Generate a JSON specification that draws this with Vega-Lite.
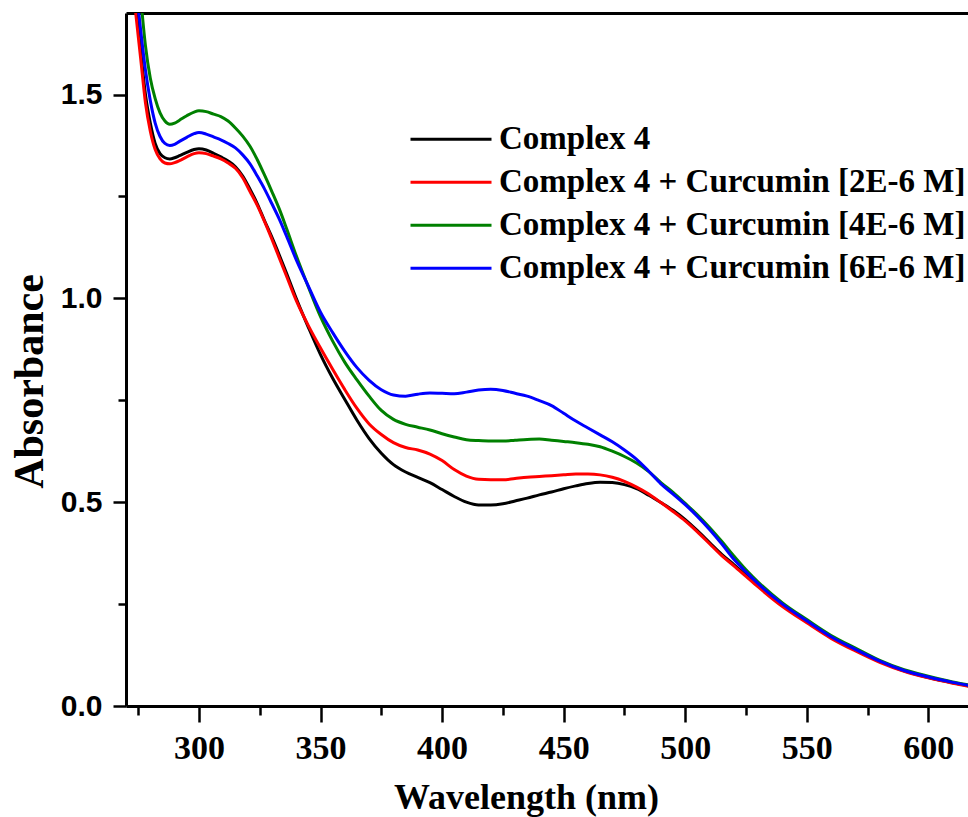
{
  "$schema": "https://vega.github.io/schema/vega-lite/v6.json",
  "width": 842,
  "height": 693,
  "autosize": {"type": "none"},
  "padding": {"left": 126, "top": 13, "right": 0, "bottom": 111},
  "background": "white",
  "config": {
    "view": {"stroke": null},
    "axis": {"grid": false, "domainColor": "black", "tickColor": "black", "domainWidth": 3, "tickWidth": 2.5, "labelColor": "black", "titleColor": "black"}
  },
  "data": {"values": [
    {"wl":272,"c0":1.84,"c2":1.82,"c4":1.96,"c6":1.88},
    {"wl":274,"c0":1.72,"c2":1.70,"c4":1.86,"c6":1.77},
    {"wl":276,"c0":1.61,"c2":1.59,"c4":1.74,"c6":1.66},
    {"wl":278,"c0":1.50,"c2":1.48,"c4":1.62,"c6":1.56},
    {"wl":280,"c0":1.43,"c2":1.41,"c4":1.54,"c6":1.485},
    {"wl":282,"c0":1.38,"c2":1.365,"c4":1.49,"c6":1.43},
    {"wl":284,"c0":1.355,"c2":1.342,"c4":1.455,"c6":1.397},
    {"wl":286,"c0":1.345,"c2":1.332,"c4":1.435,"c6":1.38},
    {"wl":288,"c0":1.342,"c2":1.330,"c4":1.427,"c6":1.375},
    {"wl":290,"c0":1.345,"c2":1.333,"c4":1.430,"c6":1.378},
    {"wl":292,"c0":1.350,"c2":1.338,"c4":1.437,"c6":1.385},
    {"wl":295,"c0":1.358,"c2":1.347,"c4":1.448,"c6":1.395},
    {"wl":298,"c0":1.365,"c2":1.355,"c4":1.457,"c6":1.404},
    {"wl":300,"c0":1.367,"c2":1.357,"c4":1.460,"c6":1.407},
    {"wl":303,"c0":1.364,"c2":1.355,"c4":1.458,"c6":1.403},
    {"wl":306,"c0":1.356,"c2":1.349,"c4":1.452,"c6":1.396},
    {"wl":309,"c0":1.347,"c2":1.342,"c4":1.446,"c6":1.389},
    {"wl":312,"c0":1.337,"c2":1.332,"c4":1.435,"c6":1.380},
    {"wl":315,"c0":1.323,"c2":1.319,"c4":1.418,"c6":1.369},
    {"wl":318,"c0":1.300,"c2":1.296,"c4":1.398,"c6":1.352},
    {"wl":321,"c0":1.268,"c2":1.262,"c4":1.373,"c6":1.330},
    {"wl":324,"c0":1.232,"c2":1.228,"c4":1.340,"c6":1.300},
    {"wl":327,"c0":1.190,"c2":1.188,"c4":1.302,"c6":1.268},
    {"wl":330,"c0":1.150,"c2":1.145,"c4":1.262,"c6":1.232},
    {"wl":333,"c0":1.107,"c2":1.100,"c4":1.220,"c6":1.195},
    {"wl":336,"c0":1.062,"c2":1.055,"c4":1.172,"c6":1.153},
    {"wl":340,"c0":1.000,"c2":0.995,"c4":1.105,"c6":1.095},
    {"wl":345,"c0":0.929,"c2":0.933,"c4":1.028,"c6":1.030},
    {"wl":350,"c0":0.862,"c2":0.878,"c4":0.955,"c6":0.966},
    {"wl":355,"c0":0.804,"c2":0.826,"c4":0.895,"c6":0.916},
    {"wl":360,"c0":0.752,"c2":0.776,"c4":0.843,"c6":0.870},
    {"wl":365,"c0":0.701,"c2":0.730,"c4":0.800,"c6":0.830},
    {"wl":370,"c0":0.656,"c2":0.692,"c4":0.760,"c6":0.799},
    {"wl":375,"c0":0.620,"c2":0.666,"c4":0.725,"c6":0.776},
    {"wl":380,"c0":0.592,"c2":0.646,"c4":0.703,"c6":0.763},
    {"wl":385,"c0":0.574,"c2":0.634,"c4":0.691,"c6":0.760},
    {"wl":390,"c0":0.561,"c2":0.628,"c4":0.684,"c6":0.765},
    {"wl":395,"c0":0.548,"c2":0.618,"c4":0.677,"c6":0.768},
    {"wl":400,"c0":0.531,"c2":0.602,"c4":0.668,"c6":0.767},
    {"wl":405,"c0":0.514,"c2":0.580,"c4":0.660,"c6":0.766},
    {"wl":410,"c0":0.500,"c2":0.564,"c4":0.653,"c6":0.770},
    {"wl":415,"c0":0.493,"c2":0.556,"c4":0.651,"c6":0.775},
    {"wl":420,"c0":0.493,"c2":0.555,"c4":0.650,"c6":0.777},
    {"wl":425,"c0":0.496,"c2":0.555,"c4":0.650,"c6":0.774},
    {"wl":430,"c0":0.503,"c2":0.558,"c4":0.652,"c6":0.767},
    {"wl":435,"c0":0.510,"c2":0.561,"c4":0.654,"c6":0.760},
    {"wl":440,"c0":0.518,"c2":0.563,"c4":0.655,"c6":0.749},
    {"wl":445,"c0":0.525,"c2":0.565,"c4":0.652,"c6":0.737},
    {"wl":450,"c0":0.533,"c2":0.567,"c4":0.649,"c6":0.718},
    {"wl":455,"c0":0.540,"c2":0.569,"c4":0.646,"c6":0.699},
    {"wl":460,"c0":0.546,"c2":0.569,"c4":0.642,"c6":0.682},
    {"wl":465,"c0":0.549,"c2":0.567,"c4":0.636,"c6":0.665},
    {"wl":470,"c0":0.548,"c2":0.561,"c4":0.625,"c6":0.648},
    {"wl":475,"c0":0.543,"c2":0.551,"c4":0.612,"c6":0.628},
    {"wl":480,"c0":0.533,"c2":0.537,"c4":0.596,"c6":0.605},
    {"wl":485,"c0":0.517,"c2":0.520,"c4":0.575,"c6":0.576},
    {"wl":490,"c0":0.499,"c2":0.499,"c4":0.548,"c6":0.545},
    {"wl":495,"c0":0.480,"c2":0.477,"c4":0.524,"c6":0.520},
    {"wl":500,"c0":0.457,"c2":0.454,"c4":0.497,"c6":0.494},
    {"wl":505,"c0":0.430,"c2":0.427,"c4":0.469,"c6":0.465},
    {"wl":510,"c0":0.401,"c2":0.398,"c4":0.438,"c6":0.433},
    {"wl":515,"c0":0.372,"c2":0.369,"c4":0.404,"c6":0.398},
    {"wl":520,"c0":0.347,"c2":0.344,"c4":0.368,"c6":0.360},
    {"wl":525,"c0":0.321,"c2":0.318,"c4":0.334,"c6":0.329},
    {"wl":530,"c0":0.295,"c2":0.292,"c4":0.304,"c6":0.300},
    {"wl":540,"c0":0.247,"c2":0.244,"c4":0.253,"c6":0.250},
    {"wl":550,"c0":0.207,"c2":0.204,"c4":0.212,"c6":0.209},
    {"wl":560,"c0":0.168,"c2":0.166,"c4":0.173,"c6":0.170},
    {"wl":570,"c0":0.137,"c2":0.135,"c4":0.142,"c6":0.139},
    {"wl":580,"c0":0.110,"c2":0.107,"c4":0.112,"c6":0.110},
    {"wl":590,"c0":0.086,"c2":0.085,"c4":0.089,"c6":0.087},
    {"wl":600,"c0":0.070,"c2":0.069,"c4":0.073,"c6":0.071},
    {"wl":610,"c0":0.057,"c2":0.056,"c4":0.059,"c6":0.058},
    {"wl":617,"c0":0.049,"c2":0.048,"c4":0.051,"c6":0.050}
  ]},
  "transform": [{"fold": ["c0", "c2", "c4", "c6"], "as": ["series", "A"]}],
  "layer": [
    {
      "mark": {"type": "line", "strokeWidth": 3, "clip": true, "interpolate": "monotone"},
      "encoding": {
        "x": {"field": "wl", "type": "quantitative",
          "scale": {"domain": [270, 616.3], "nice": false, "zero": false},
          "axis": {"orient": "bottom", "values": [300, 350, 400, 450, 500, 550, 600], "tickSize": 16,
            "labelFont": "Liberation Serif", "labelFontSize": 34, "labelFontWeight": "bold", "labelPadding": 9,
            "labelFlush": false, "labelOverlap": false,
            "title": "Wavelength (nm)", "titleFont": "Liberation Serif", "titleFontSize": 36, "titleFontWeight": "bold",
            "titleX": 400, "titleY": 102, "titleAlign": "center", "titleBaseline": "alphabetic"}},
        "y": {"field": "A", "type": "quantitative",
          "scale": {"domain": [0, 1.7], "nice": false},
          "axis": {"orient": "left", "values": [0, 0.5, 1, 1.5], "format": ".1f", "tickSize": 13,
            "labelFont": "Liberation Sans", "labelFontSize": 30, "labelFontWeight": "bold", "labelPadding": 11,
            "labelFlush": false, "labelOverlap": false,
            "title": "Absorbance", "titleFont": "Liberation Serif", "titleFontSize": 42, "titleFontWeight": "bold",
            "titleAngle": -90, "titleX": -84, "titleY": 368, "titleAlign": "center", "titleBaseline": "alphabetic"}},
        "color": {"field": "series", "type": "nominal",
          "scale": {"domain": ["c0", "c2", "c4", "c6"], "range": ["#000000", "#ff0000", "#008000", "#0000ff"]},
          "legend": {"orient": "none", "legendX": 283, "legendY": 105, "title": null,
            "symbolType": "stroke", "symbolSize": 6561, "symbolStrokeWidth": 3, "clipHeight": 42.6,
            "labelFont": "Liberation Serif", "labelFontSize": 33, "labelFontWeight": "bold", "labelColor": "black",
            "labelOffset": 6, "labelLimit": 800, "rowPadding": 0, "padding": 0,
            "labelExpr": "datum.value == 'c0' ? 'Complex 4' : datum.value == 'c2' ? 'Complex 4 + Curcumin [2E-6 M]' : datum.value == 'c4' ? 'Complex 4 + Curcumin [4E-6 M]' : 'Complex 4 + Curcumin [6E-6 M]'"}}
      }
    },
    {
      "mark": {"type": "line", "opacity": 0},
      "encoding": {
        "x": {"field": "wl", "type": "quantitative",
          "scale": {"domain": [270, 616.3], "nice": false, "zero": false},
          "axis": {"orient": "bottom", "values": [275, 325, 375, 425, 475, 525, 575], "tickSize": 9, "labels": false, "domain": false, "title": null}},
        "y": {"field": "A", "type": "quantitative",
          "scale": {"domain": [0, 1.7], "nice": false},
          "axis": {"orient": "left", "values": [0.25, 0.75, 1.25], "tickSize": 8, "labels": false, "domain": false, "title": null}},
        "detail": {"field": "series"}
      }
    },
    {
      "mark": {"type": "line", "opacity": 0},
      "encoding": {
        "x": {"field": "wl", "type": "quantitative",
          "scale": {"domain": [270, 616.3], "nice": false, "zero": false},
          "axis": {"orient": "top", "ticks": false, "labels": false, "domain": true, "title": null}},
        "y": {"field": "A", "type": "quantitative",
          "scale": {"domain": [0, 1.7], "nice": false}, "axis": null},
        "detail": {"field": "series"}
      }
    }
  ],
  "resolve": {"axis": {"x": "independent", "y": "independent"}}
}
